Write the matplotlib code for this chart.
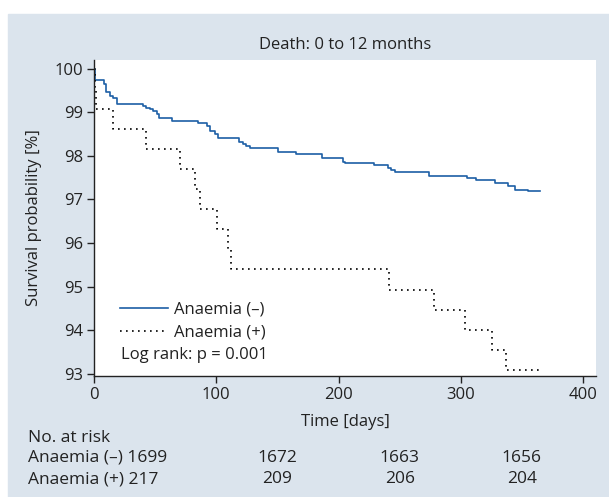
import matplotlib
matplotlib.use("Agg")
import matplotlib.pyplot as plt
from matplotlib.patches import Rectangle
from matplotlib.lines import Line2D
import matplotlib.transforms as mtransforms

# Kaplan-Meier steps (days, survival %)
neg_days = [0, 0.8, 8, 10, 13, 15.3, 18.6, 40.3, 42.5, 45.8, 48.5, 51.3, 53.4,
            63.6, 85.3, 92.2, 95, 99, 101.4, 118.9, 122, 124.3, 127.6, 150.3,
            165, 186.3, 204, 205.3, 229, 240.7, 243, 246.2, 274, 305.4, 312.5,
            328, 339, 344.4, 355.3, 365]
neg_surv = [100, 99.75, 99.65, 99.47, 99.38, 99.32, 99.2, 99.15, 99.1, 99.07,
            99.03, 98.95, 98.87, 98.81, 98.75, 98.68, 98.58, 98.5, 98.42, 98.33,
            98.28, 98.22, 98.17, 98.08, 98.04, 97.95, 97.86, 97.84, 97.79, 97.72,
            97.67, 97.62, 97.55, 97.49, 97.44, 97.38, 97.3, 97.21, 97.19, 97.19]

pos_days = [0, 0.5, 2, 15.8, 42.3, 70.3, 83, 87, 101, 110, 112, 241.3, 278.4,
            303.5, 325.3, 336.8, 366]
pos_surv = [100, 99.54, 99.08, 98.62, 98.16, 97.7, 97.24, 96.78, 96.32, 95.86,
            95.4, 94.93, 94.47, 94.01, 93.55, 93.09, 93.09]

# number at risk table
risk_days = [150, 250, 350]
risk_neg = [1699, 1672, 1663, 1656]
risk_pos = [217, 209, 206, 204]

labels = ["Anaemia (\u2013)", "Anaemia (+)"]
title = "Death: 0 to 12 months"

blue = "#1d5fa6"
panel = "#dbe4ed"
txt = "#222222"

plt.rcParams["font.family"] = ["Open Sans", "DejaVu Sans"]
plt.rcParams["font.size"] = 11
plt.rcParams["text.color"] = txt
plt.rcParams["axes.labelcolor"] = txt
plt.rcParams["xtick.color"] = txt
plt.rcParams["ytick.color"] = txt

W, H = 609, 497
fig = plt.figure(figsize=(W / 100, H / 100), dpi=100)
fig.patch.set_facecolor("white")
fig.patches.append(Rectangle((8 / W, 0), 1, (H - 14) / H,
                             transform=fig.transFigure, color=panel,
                             zorder=-10))

ax = fig.add_axes([94 / W, (H - 376) / H, (596 - 94) / W, (376 - 60) / H])
ax.set_zorder(1)
ax.set_facecolor("white")

ax.step(neg_days, neg_surv, where="post", color=blue, lw=1.2)
ax.step(pos_days, pos_surv, where="post", color="black", lw=1.2,
        linestyle=(0, (1, 2.6)))

ax.set_xlim(0, 410.6)
ax.set_ylim(92.95, 100.2)
ax.set_xticks([0, 100, 200, 300, 400])
ax.set_yticks(range(93, 101))
for s in ["top", "right"]:
    ax.spines[s].set_visible(False)
for s in ["left", "bottom"]:
    ax.spines[s].set_color(txt)
    ax.spines[s].set_linewidth(1.0)
ax.tick_params(direction="out", length=5, width=1, pad=3, labelsize=12)

ax.set_title(title, fontsize=12, pad=8)
ax.set_xlabel("Time [days]", fontsize=12, labelpad=8)
ax.set_ylabel("Survival probability [%]", fontsize=12, labelpad=9)

handles = [Line2D([], [], color=blue, lw=1.2),
           Line2D([], [], color="black", lw=1.2, linestyle=(0, (1, 2.6)))]
ax.legend(handles, labels, loc="center left", bbox_to_anchor=(0.052, 0.174),
          frameon=False, borderpad=0, borderaxespad=0, handlelength=2.9,
          handletextpad=0.35, labelspacing=0.4, fontsize=12)
ax.text(0.053, 0.066, "Log rank: p = 0.001", transform=ax.transAxes,
        va="center", ha="left", fontsize=12)

# number at risk below the axis
fs = 12.5
fig.text(28 / W, 1 - 438 / H, "No. at risk", va="center", ha="left", fontsize=fs)
fig.text(28 / W, 1 - 458 / H, f"{labels[0]} {risk_neg[0]}", va="center",
         ha="left", fontsize=fs)
fig.text(28 / W, 1 - 479 / H, f"{labels[1]} {risk_pos[0]}", va="center",
         ha="left", fontsize=fs)
tr = mtransforms.blended_transform_factory(ax.transData, fig.transFigure)
for d, a, b in zip(risk_days, risk_neg[1:], risk_pos[1:]):
    fig.text(d, 1 - 458 / H, str(a), transform=tr, ha="center", va="center",
             fontsize=fs)
    fig.text(d, 1 - 479 / H, str(b), transform=tr, ha="center", va="center",
             fontsize=fs)

fig.savefig("out.png", dpi=100)
